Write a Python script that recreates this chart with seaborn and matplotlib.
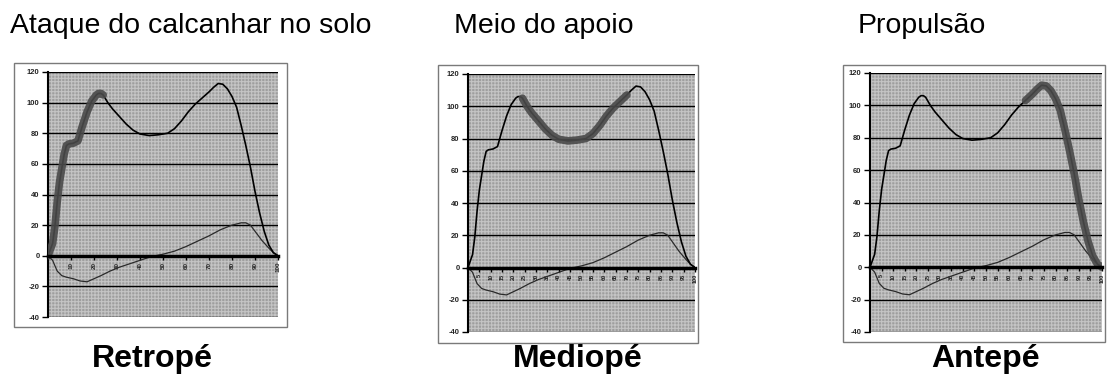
import matplotlib
matplotlib.use("Agg")
import matplotlib.pyplot as plt
from matplotlib.patches import Rectangle
import seaborn as sns
import pandas as pd

# Ground reaction force over the stance phase (% of stance)
stance_pct = [0, 2, 3, 4, 5, 6, 7, 8, 9, 11, 13, 15, 17, 19, 21, 22, 23, 24, 26, 28,
              31, 34, 37, 40, 44, 48, 52, 55, 58, 61, 64, 67, 70, 72, 74, 76, 78, 80,
              82, 84, 86, 88, 90, 92, 94, 96, 98, 100]
vertical_force = [0, 8, 19, 35, 48, 57, 66, 72, 73, 73.5, 75, 85, 94, 101, 105, 106, 106, 105,
                  100, 96, 91, 86, 82, 79.5, 78.5, 79, 80, 83, 88, 94, 99, 103, 107, 110,
                  112.5, 112, 109, 104, 97, 85, 72, 58, 42, 28, 16, 7, 2, 0]

ap_pct = [0, 2, 4, 6, 8, 11, 14, 17, 20, 23, 27, 31, 35, 40, 45, 50, 55, 60, 65, 70,
          75, 80, 84, 86, 88, 90, 93, 96, 98, 100]
ap_force = [0, -3, -10, -13, -14, -15, -16.5, -17, -15, -13, -10, -7.5, -5.5, -3, -0.5,
            1, 3, 6, 9.5, 13, 17, 20, 21.5, 21.5, 20, 16, 10, 5, 2, 0]

phase_titles = ["Ataque do calcanhar no solo", "Meio do apoio", "Propulsão"]
foot_regions = ["Retropé", "Mediopé", "Antepé"]
# portion of stance emphasised in each panel
highlight_from = [0, 24, 67]
highlight_to = [24, 71, 100]

y_ticks = [-40, -20, 0, 20, 40, 60, 80, 100, 120]
y_tick_labels = ["-40", "-20", "0", "20", "40", "60", "80", "100", "120"]
x_ticks_sparse = [10, 20, 30, 40, 50, 60, 70, 80, 90, 100]
x_ticks_dense = [5, 10, 15, 20, 25, 30, 35, 40, 45, 50, 55, 60, 65, 70, 75, 80, 85, 90, 95, 100]

sns.set_theme(style="white")
plt.rcParams["font.family"] = ["Liberation Sans", "DejaVu Sans"]
plt.rcParams["hatch.linewidth"] = 0.8

W, H = 1107, 385
fig = plt.figure(figsize=(W / 100, H / 100), dpi=100)
fig.patch.set_facecolor("white")

vert_df = pd.DataFrame({"pct": stance_pct, "force": vertical_force})
ap_df = pd.DataFrame({"pct": ap_pct, "force": ap_force})

# pixel layout: plot area (x0, x1, y0, y1), outer frame, title x, label centre x
layouts = [
    dict(plot=(48, 278, 72, 317), frame=(14, 287, 63, 327), tx=10, lx=152, xt=x_ticks_sparse, xfs=4.5),
    dict(plot=(468, 695, 74, 332), frame=(438, 698, 65, 343), tx=454, lx=578, xt=x_ticks_dense, xfs=4),
    dict(plot=(870, 1102, 73, 332), frame=(843, 1105, 65, 342), tx=858, lx=986, xt=x_ticks_dense, xfs=4),
]

for i, lay in enumerate(layouts):
    x0, x1, y0, y1 = lay["plot"]
    ax = fig.add_axes([x0 / W, 1 - y1 / H, (x1 - x0) / W, (y1 - y0) / H])
    ax.set_facecolor("none")
    ax.add_patch(Rectangle((0, 0), 1, 1, transform=ax.transAxes, facecolor="#9e9e9e",
                           edgecolor="#c4c4c4", hatch="+++++", lw=0, zorder=0))
    for v in y_ticks:
        ax.axhline(v, color="black", lw=1.0, zorder=1)

    sns.lineplot(data=ap_df, x="pct", y="force", color="#2a2a2a", lw=0.9,
                 sort=False, estimator=None, ax=ax, zorder=3)
    sns.lineplot(data=vert_df, x="pct", y="force", color="black", lw=1.2,
                 sort=False, estimator=None, ax=ax, zorder=4)
    seg = vert_df[(vert_df.pct >= highlight_from[i]) & (vert_df.pct <= highlight_to[i])]
    sns.lineplot(data=seg, x="pct", y="force", color="#4a4a4a", lw=5.5, alpha=0.9,
                 sort=False, estimator=None, ax=ax, zorder=5, solid_capstyle="round")

    # x axis drawn along the zero line (done before styling the tick labels)
    ax.spines["bottom"].set_position(("data", 0))
    ax.spines["bottom"].set_color("black")
    ax.spines["bottom"].set_linewidth(2.5)
    ax.spines["bottom"].set_zorder(6)
    ax.spines["left"].set_color("black")
    ax.spines["left"].set_linewidth(1.5)
    for s in ("top", "right"):
        ax.spines[s].set_visible(False)

    ax.set_xlim(0, 100)
    ax.set_ylim(-40, 120)
    ax.set_xlabel("")
    ax.set_ylabel("")
    ax.set_yticks(y_ticks)
    ax.set_yticklabels(y_tick_labels, fontsize=5.5, fontweight="bold")
    ax.set_xticks(lay["xt"])
    ax.set_xticklabels([str(t) for t in lay["xt"]], fontsize=lay["xfs"], fontweight="bold",
                       rotation=90, va="top")
    ax.tick_params(axis="y", direction="out", length=4, width=1, color="black", pad=2, left=True)
    ax.tick_params(axis="x", direction="out", length=3, width=1, color="black", pad=1.5, bottom=True)

    fx0, fx1, fy0, fy1 = lay["frame"]
    fig.add_artist(Rectangle((fx0 / W, 1 - fy1 / H), (fx1 - fx0) / W, (fy1 - fy0) / H,
                             transform=fig.transFigure, fill=False, edgecolor="#7a7a7a", lw=1))

    fig.text(lay["tx"] / W, 1 - 33 / H, phase_titles[i], fontsize=20.5,
             ha="left", va="baseline", color="black")
    fig.text(lay["lx"] / W, 1 - 367 / H, foot_regions[i], fontsize=23, fontweight="bold",
             ha="center", va="baseline", color="black")

fig.savefig("out.png", dpi=100)
